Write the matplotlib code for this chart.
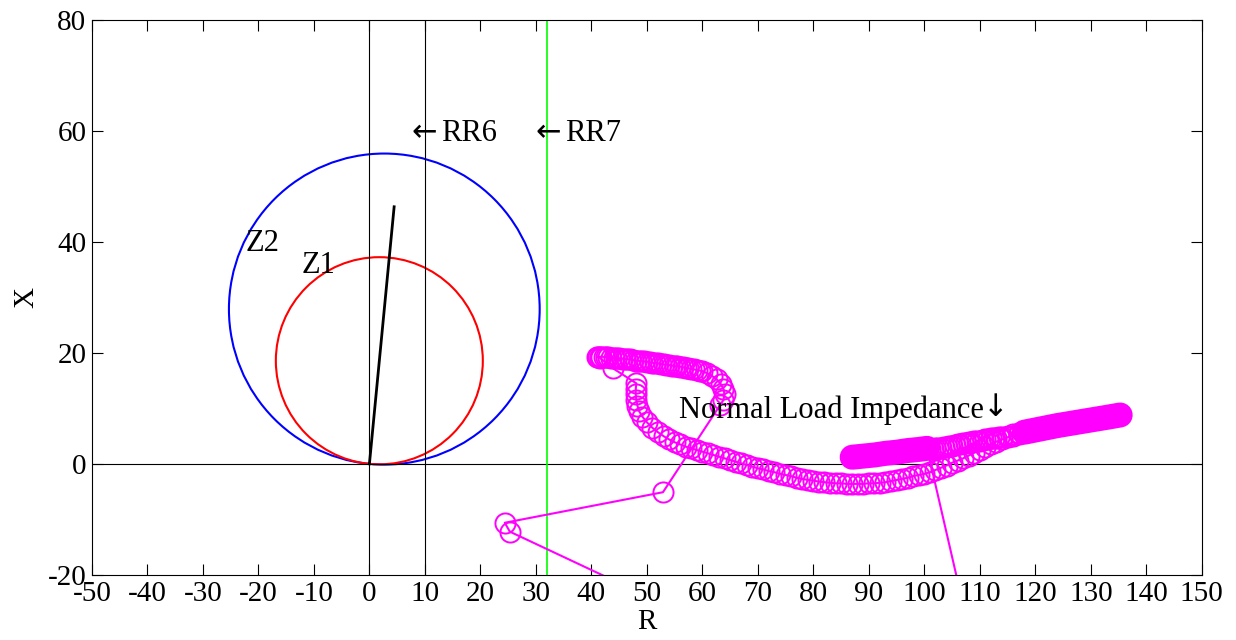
import numpy as np
import matplotlib.pyplot as plt
from matplotlib.patches import Circle

plt.rcParams['font.family'] = ['Liberation Serif', 'DejaVu Serif']
plt.rcParams['axes.unicode_minus'] = False

MAGENTA = '#ff00ff'

# relay characteristics (ohm)
line_angle_deg = 84.5
z1_reach = 37.3
z2_reach = 56.0
line_len = 46.5
rr6 = 10.0
rr7 = 32.0

# normal load impedance, dense samples (filled look)
load_pre_r = [87.0, 89.0, 91.0, 93.0, 95.0, 97.0, 99.0, 100.5]
load_pre_x = [1.2, 1.4, 1.6, 1.9, 2.1, 2.4, 2.6, 2.8]
load_mid_r = [101.0, 101.5, 102.0, 102.5, 103.0, 103.5, 104.0, 104.5, 105.0, 105.5,
              106.0, 106.5, 107.0, 107.5, 108.0, 108.5, 109.0, 109.5, 110.0, 110.5,
              111.0, 111.5, 112.0, 112.5, 113.0, 113.5, 114.0, 115.0, 116.0, 117.0]
load_mid_x = [2.6, 2.7, 2.8, 2.85, 2.9, 3.0, 3.1, 3.2, 3.3, 3.4,
              3.5, 3.6, 3.7, 3.8, 3.9, 4.0, 4.1, 4.15, 4.2, 4.3,
              4.4, 4.5, 4.6, 4.65, 4.7, 4.8, 4.9, 5.1, 5.3, 5.5]
load_post_r = [118.0, 121.0, 124.0, 127.0, 130.0, 133.0, 135.3]
load_post_x = [5.7, 6.3, 6.9, 7.4, 7.9, 8.4, 8.8]

# fault / swing trajectory
jump_r = [100.5, 113.5, 25.3, 24.4, 52.9, 63.2]
jump_x = [2.8, -53.6, -12.2, -10.6, -5.1, 10.6]
upper_arc_r = [63.8, 64.0, 63.8, 63.3, 62.6, 61.8, 60.9, 60.0, 59.5, 59.0, 58.5, 58.0,
               57.5, 57.0, 56.5, 56.0, 55.5, 55.0, 54.5, 54.0, 53.5, 53.0, 52.5, 52.0,
               51.5, 51.0, 50.5, 50.0, 49.5, 49.0, 48.5, 48.0, 47.5, 47.0, 46.5, 46.0,
               45.5, 45.0, 44.5, 44.0, 43.5, 43.0, 42.6, 42.2, 41.8, 41.5, 41.2, 41.0,
               41.5, 43.9]
upper_arc_x = [11.5, 12.5, 13.5, 14.4, 15.2, 15.8, 16.3, 16.7, 16.8, 16.9, 17.0, 17.1,
               17.2, 17.3, 17.4, 17.5, 17.55, 17.6, 17.7, 17.8, 17.85, 17.9, 18.0, 18.1,
               18.15, 18.2, 18.3, 18.4, 18.45, 18.5, 18.55, 18.6, 18.7, 18.8, 18.85, 18.9,
               18.95, 19.0, 19.05, 19.1, 19.15, 19.2, 19.25, 19.3, 19.3, 19.3, 19.3, 19.3,
               19.1, 17.2]
lower_arc_r = [48.1, 48.0, 48.0, 48.1, 48.3, 48.6, 49.2, 50.0, 51.0, 52.0, 53.0, 54.0,
               55.0, 56.0, 57.0, 58.0, 59.0, 60.0, 61.0, 62.0, 63.0, 64.0, 65.0, 66.0,
               67.0, 68.0, 69.0, 70.0, 71.0, 72.0, 73.0, 74.0, 75.0, 76.0, 77.0, 78.0,
               79.0, 80.0, 81.0, 82.0, 83.0, 84.0, 85.0, 86.0, 87.0, 88.0, 89.0, 90.0,
               91.0, 92.0, 93.0, 94.0, 95.0, 96.0, 97.0, 98.0, 99.0, 100.0, 101.0, 102.0,
               103.0, 104.0, 105.0, 106.0, 107.0, 108.0, 109.0, 110.0, 111.0, 112.0, 113.0,
               114.0, 115.0, 116.0, 117.0, 118.0]
lower_arc_x = [14.5, 13.5, 12.5, 11.5, 10.5, 9.5, 8.5, 7.5, 6.5, 5.7, 5.0, 4.4,
               3.9, 3.5, 3.1, 2.8, 2.5, 2.2, 1.9, 1.6, 1.3, 1.0, 0.7, 0.4,
               0.1, -0.2, -0.5, -0.8, -1.0, -1.3, -1.5, -1.8, -2.0, -2.2, -2.5, -2.7,
               -2.9, -3.0, -3.2, -3.3, -3.4, -3.5, -3.5, -3.6, -3.6, -3.6, -3.6, -3.5,
               -3.5, -3.4, -3.3, -3.1, -2.9, -2.7, -2.5, -2.2, -2.0, -1.8, -1.5, -1.1,
               -0.7, -0.3, 0.2, 0.6, 1.0, 1.5, 2.0, 2.5, 3.0, 3.5, 4.0,
               4.4, 4.8, 5.1, 5.4, 5.7]

fig, ax = plt.subplots(figsize=(12.36, 6.4), dpi=100)
fig.subplots_adjust(left=0.0744, right=0.9723, bottom=0.1016, top=0.9695)

# axes cross and resistive blinders
ax.axhline(0, color='k', lw=0.8)
ax.axvline(0, color='k', lw=0.8)
ax.axvline(rr6, color='k', lw=0.8)
ax.axvline(rr7, color='#00ff00', lw=1.2)

# mho circles
ang = np.deg2rad(line_angle_deg)
for reach, col in [(z2_reach, 'blue'), (z1_reach, 'red')]:
    c = (reach / 2 * np.cos(ang), reach / 2 * np.sin(ang))
    ax.add_patch(Circle(c, reach / 2, fill=False, ec=col, lw=1.5))
ax.plot([0, line_len * np.cos(ang)], [0, line_len * np.sin(ang)], color='k', lw=2)

# trajectory
swing_r = np.concatenate([jump_r, upper_arc_r, lower_arc_r, load_post_r])
swing_x = np.concatenate([jump_x, upper_arc_x, lower_arc_x, load_post_x])
mk = dict(marker='o', ms=14.5, mfc='none', mec=MAGENTA, mew=1.4)
ax.plot(swing_r, swing_x, color=MAGENTA, lw=1.5, **mk)
ax.plot(load_mid_r, load_mid_x, ls='none', **mk)
for rr, xx in [(load_pre_r, load_pre_x), (load_post_r, load_post_x)]:
    ax.plot(rr, xx, color=MAGENTA, lw=18, solid_capstyle='round')

fs = 21
afs = 22
arrow_font = ['DejaVu Sans']
ax.text(7.6, 59.6, '←', fontsize=afs, va='center', family=arrow_font)
ax.text(13.0, 59.5, 'RR6', fontsize=afs, va='center')
ax.text(29.9, 59.6, '←', fontsize=afs, va='center', family=arrow_font)
ax.text(35.2, 59.5, 'RR7', fontsize=afs, va='center')
ax.text(-22.4, 39.7, 'Z2', fontsize=afs, va='center')
ax.text(-12.2, 35.8, 'Z1', fontsize=afs, va='center')
ax.text(55.8, 9.7, 'Normal Load Impedance', fontsize=afs, va='center')
ax.text(110.6, 10.2, '↓', fontsize=afs, va='center', family=arrow_font)

ax.set_xlim(-50, 150)
ax.set_ylim(-20, 80)
ax.set_xticks(np.arange(-50, 151, 10))
ax.set_yticks(np.arange(-20, 81, 20))
ax.tick_params(direction='in', length=8, width=0.8, labelsize=fs, top=True, right=True, pad=4)
for s in ax.spines.values():
    s.set_linewidth(0.8)
ax.set_xlabel('R', fontsize=fs, labelpad=2)
ax.set_ylabel('X', fontsize=fs, labelpad=6)

fig.savefig('out.png')
